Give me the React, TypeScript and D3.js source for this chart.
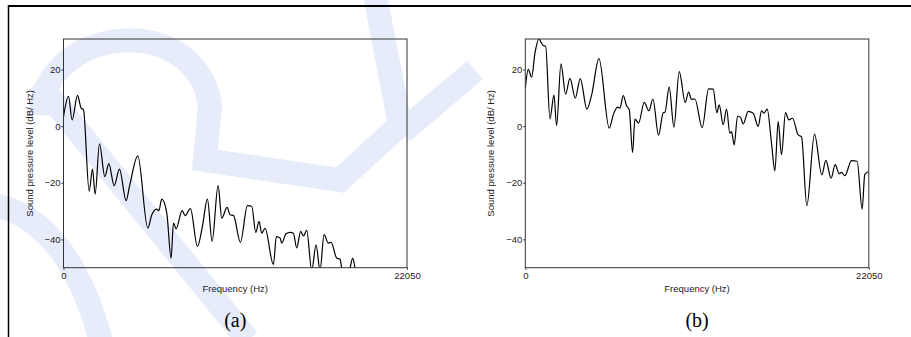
import { useEffect, useRef } from 'react'
import * as d3 from 'd3'

// spectrum (a), Hz / dB
const aFreq = [0, 321, 556, 898, 1133, 1283, 1647, 1861, 2032, 2310, 2652, 2909, 3251, 3593, 4021, 4235, 4769, 5411, 5668, 5988, 6117, 6309, 6630, 6908, 7058, 7229, 7614, 7806, 8148, 8598, 8918, 9239, 9539, 9924, 10159, 10501, 10694, 10907, 11357, 11806, 12084, 12340, 12554, 12725, 12939, 13474, 13666, 13902, 14008, 14287, 14543, 14757, 14971, 15228, 15399, 15613, 15934, 16211, 16468, 16725, 17003, 17174, 17537, 17751, 17901, 18329, 18564, 18778, 22050]
const aDb = [3.4, 10.5, 2.2, 10.9, 6.4, 5.8, -23, -15.2, -24, -6.2, -17.8, -13.2, -21, -15.2, -26.3, -21.3, -10.5, -36, -31.3, -29.3, -29.9, -25.8, -30.7, -46.6, -34.2, -36.3, -29.8, -31.6, -29.1, -42.5, -35.4, -25.8, -40.7, -21, -32.5, -28.7, -31.3, -31.5, -41, -28.1, -28.3, -37.5, -33.6, -37.8, -36.1, -48.9, -39, -39.5, -41.3, -38, -37.5, -37.8, -43, -37.2, -38.8, -36.8, -51, -41.9, -51, -38.3, -41.3, -41, -46.6, -47, -51, -51, -46.6, -51, -51]

// spectrum (b)
const bFreq = [0, 192, 406, 620, 877, 1048, 1155, 1305, 1583, 1839, 2010, 2288, 2588, 2866, 3208, 3529, 3957, 4256, 4727, 5390, 5646, 5924, 6074, 6288, 6502, 6673, 6887, 7036, 7272, 7635, 7935, 8191, 8555, 8854, 8961, 9239, 9539, 9881, 10266, 10480, 10672, 10886, 11356, 11763, 12062, 12297, 12447, 12704, 12918, 13132, 13239, 13410, 13624, 13816, 13987, 14308, 14629, 14950, 15164, 15313, 15527, 15805, 16019, 16233, 16447, 16703, 16917, 17152, 17516, 17730, 18072, 18564, 19034, 19291, 19633, 19890, 20147, 20297, 20511, 20938, 21302, 21622, 21793, 22050]
const bDb = [13.4, 20.1, 17.3, 25.8, 30.8, 29.3, 28.5, 28.3, 2.6, 11, 0.2, 22, 11.3, 16.9, 9.9, 16.8, 6, 11, 23.9, -0.7, 4, 6.7, 6.4, 10.8, 7.2, 5.8, -9.3, 2.5, 1.1, 8.4, 5.4, 9.6, -3.2, 4.8, 4.9, 13.8, -0.35, 19.3, 8.4, 12, 9.5, 9.6, -0.5, 13.2, 13.1, 4.8, 7.5, 0.5, 6, -2.5, -1.9, -6.6, 3.6, 3.1, 0.8, 5.2, 4.6, -0.1, 5.4, 4.6, 6, -6, -15.8, 1.6, -10.1, 4.8, 2.2, 2.8, -3.1, -3.7, -28.1, -2.8, -17.2, -12.1, -18.4, -13.6, -16.8, -16.3, -17.5, -12.2, -12.4, -29.3, -17, -16]

const yTicks = [-40, -20, 0, 20]
const xTicks = [0, 22050]
const yLabel = 'Sound pressure level (dB/ Hz)'
const xLabel = 'Frequency (Hz)'

const W = 911, H = 337

export default function App() {
  const ref = useRef<SVGSVGElement>(null)

  useEffect(() => {
    const svg = d3.select(ref.current!)
    svg.selectAll('*').remove()

    // faint watermark behind the panels
    const wm = svg.append('g').attr('fill', 'none').attr('stroke', '#e6ecfa').attr('stroke-width', 24)
    ;[
      'M -5,205 Q 70,222 102,345',
      'M 38,82 L 248,340',
      'M 40,115 C 45,25 195,10 210,105 L 205,160 L 340,180 L 400,125 L 375,-5',
      'M 475,70 L 402,132',
    ].forEach(d => wm.append('path').attr('d', d))

    // outer frame lines
    svg.append('line').attr('x1', 8).attr('x2', W).attr('y1', 6).attr('y2', 6).attr('stroke', '#000').attr('stroke-width', 2)
    svg.append('line').attr('x1', 8.5).attr('x2', 8.5).attr('y1', 5).attr('y2', H).attr('stroke', '#000').attr('stroke-width', 1.5)

    function panel(left: number, freq: number[], db: number[], tag: string, id: string) {
      const right = left + 343.5, top = 39, bottom = 267.7
      const x = d3.scaleLinear().domain([0, 22050]).range([left, right])
      const y = d3.scaleLinear().domain([-50, 30.8]).range([bottom, top])
      const g = svg.append('g').attr('font-family', '"Liberation Sans", Arial, sans-serif')

      g.append('clipPath').attr('id', id).append('rect')
        .attr('x', left).attr('y', top).attr('width', right - left).attr('height', bottom - top)

      const line = d3.line<number>().x((_, i) => x(freq[i])).y(d => y(d)).curve(d3.curveMonotoneX)
      g.append('path').datum(db).attr('clip-path', `url(#${id})`)
        .attr('fill', 'none').attr('stroke', '#000').attr('stroke-width', 1.2).attr('d', line)

      g.append('rect').attr('x', left).attr('y', top).attr('width', right - left).attr('height', bottom - top)
        .attr('fill', 'none').attr('stroke', '#333').attr('stroke-width', 1)

      const ya = g.append('g').attr('transform', `translate(${left},0)`)
        .call(d3.axisLeft(y).tickValues(yTicks).tickSize(2).tickPadding(1))
      ya.select('.domain').remove()
      ya.selectAll('line').attr('stroke', '#333')
      ya.selectAll('text').attr('font-size', 9.5).attr('fill', '#222').attr('font-family', null)

      const xa = g.append('g').attr('transform', `translate(0,${bottom})`)
        .call(d3.axisBottom(x).tickValues(xTicks).tickSize(2).tickPadding(3).tickFormat(d3.format('d')))
      xa.select('.domain').remove()
      xa.selectAll('line').attr('stroke', '#333')
      xa.selectAll('text').attr('font-size', 9.5).attr('fill', '#222').attr('font-family', null)

      g.append('text').attr('x', (left + right) / 2).attr('y', 292).attr('text-anchor', 'middle')
        .attr('font-size', 9.5).attr('fill', '#222').text(xLabel)
      g.append('text').attr('transform', `translate(${left - 31},${(top + bottom) / 2}) rotate(-90)`)
        .attr('text-anchor', 'middle').attr('font-size', 9.5).attr('fill', '#222').text(yLabel)

      svg.append('text').attr('x', (left + right) / 2).attr('y', 327).attr('text-anchor', 'middle')
        .attr('font-family', '"Liberation Serif", "Times New Roman", serif').attr('font-size', 20)
        .attr('fill', '#000').text(tag)
    }

    panel(63.5, aFreq, aDb, '(a)', 'clipA')
    panel(525.3, bFreq, bDb, '(b)', 'clipB')
  }, [])

  return (
    <svg ref={ref} width={W} height={H}
      style={{ position: 'absolute', left: 0, top: 0, background: '#fff' }} />
  )
}
